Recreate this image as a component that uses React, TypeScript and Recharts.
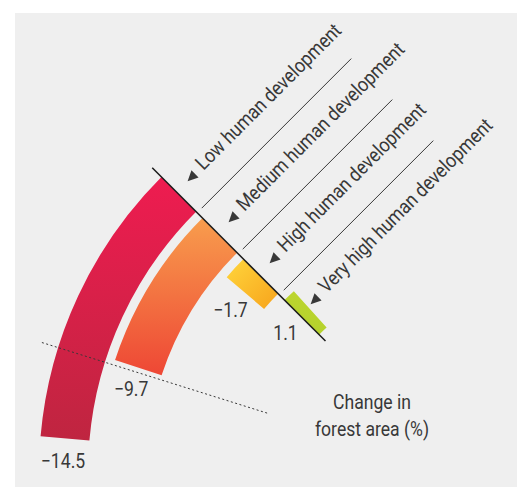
import React from 'react';
import { RadialBarChart, RadialBar, PolarAngleAxis, PolarRadiusAxis, Cell, Sector } from 'recharts';

// groups are listed from the innermost ring outwards
const groups = [
  'Very high human development',
  'High human development',
  'Medium human development',
  'Low human development',
];
const forestChange = [1.1, -1.7, -9.7, -14.5];
const gridTicks = [-10, 0];
const axisTitle = ['Change in', 'forest area (%)'];

const data = groups.map((name, i) => ({ name, value: forestChange[i] }));

const W = 517;
const H = 487;
const CX = 457;
const CY = 472.6;
const DEG_PER_UNIT = 2.76;
const ZERO_ANGLE = 135;
const DOMAIN: [number, number] = [-20, 20];
const INK = '#383838';
const FONT = 'Roboto, "Noto Sans", sans-serif';
const FONT_SIZE = 20;
const NARROW = 0.88; // squeeze Roboto to look like the condensed face

const fills = ['url(#gVeryHigh)', 'url(#gHigh)', 'url(#gMedium)', 'url(#gLow)'];

const RAD = Math.PI / 180;
// r along the radial direction at angle theta, u along the tangent (clockwise side)
function at(theta: number, r: number, u: number) {
  const c = Math.cos(theta * RAD);
  const s = Math.sin(theta * RAD);
  return { x: CX + r * c + u * s, y: CY - r * s + u * c };
}

function fmt(v: number) {
  return v < 0 ? `\u2212${Math.abs(v)}` : `${v}`;
}

function Txt({ x, y, rot = 0, anchor = 'start', middle = false, children }: any) {
  return (
    <text
      transform={`translate(${x},${y}) rotate(${rot}) scale(${NARROW},1)`}
      textAnchor={anchor}
      dominantBaseline={middle ? 'central' : undefined}
      fontFamily={FONT}
      fontSize={FONT_SIZE}
      fill={INK}
    >
      {children}
    </text>
  );
}

function BarWithLabels(props: any) {
  const { innerRadius, outerRadius, startAngle, endAngle, payload } = props;
  const idx = groups.indexOf(payload?.name ?? props.name);
  const value = forestChange[idx];
  const mid = (innerRadius + outerRadius) / 2;
  const base = startAngle;
  const rot = 90 - base;
  const tri = at(base, mid + 3, 21);
  const txt = at(base, mid - 1, 34);
  const valAngle = value < 0 ? endAngle : startAngle;
  const vp = at(valAngle, mid, -23);
  const l0 = at(base, innerRadius - 1.5, 6.5);
  const l1 = at(base, innerRadius - 1.5, 218);
  return (
    <g>
      <Sector {...props} />
      {idx > 0 && <line x1={l0.x} y1={l0.y} x2={l1.x} y2={l1.y} stroke={INK} strokeWidth={1} />}
      <g transform={`translate(${tri.x},${tri.y}) rotate(${rot})`}>
        <polygon points="-5.5,0 5,-5 5,5" fill={INK} />
      </g>
      <Txt x={txt.x} y={txt.y} rot={rot}>
        {groups[idx]}
      </Txt>
      <Txt x={vp.x} y={vp.y} anchor="middle" middle>
        {fmt(value)}
      </Txt>
    </g>
  );
}

function GridTick(props: any) {
  const { payload } = props;
  const theta = payload.coordinate;
  const isZero = payload.value === 0;
  const a = at(theta, isZero ? 186 : 199, 0);
  const b = at(theta, isZero ? 431 : 436, 0);
  return (
    <line
      x1={a.x}
      y1={a.y}
      x2={b.x}
      y2={b.y}
      stroke={isZero ? '#1a1a1a' : INK}
      strokeWidth={isZero ? 1.5 : 1}
      strokeDasharray={isZero ? undefined : '2 2.5'}
    />
  );
}

export default function App() {
  return (
    <div style={{ position: 'absolute', left: 0, top: 0, width: W, height: H, background: '#fff', overflow: 'hidden' }}>
      <div style={{ position: 'absolute', left: 15, top: 13, width: W - 15, height: H - 13, background: '#efefef' }} />
      <div style={{ position: 'absolute', left: 0, top: 0 }}>
        <RadialBarChart
          width={W}
          height={H}
          data={data}
          cx={CX}
          cy={CY}
          innerRadius={190}
          outerRadius={422}
          startAngle={ZERO_ANGLE - DOMAIN[0] * DEG_PER_UNIT}
          endAngle={ZERO_ANGLE - DOMAIN[1] * DEG_PER_UNIT}
          barSize={49}
          margin={{ top: 0, right: 0, bottom: 0, left: 0 }}
        >
          <defs>
            <linearGradient id="gLow" x1="0" y1="0" x2="0" y2="1">
              <stop offset="0%" stopColor="#ee1c50" />
              <stop offset="100%" stopColor="#bf2540" />
            </linearGradient>
            <linearGradient id="gMedium" x1="0" y1="0" x2="0" y2="1">
              <stop offset="0%" stopColor="#f89d4d" />
              <stop offset="100%" stopColor="#ee4735" />
            </linearGradient>
            <linearGradient id="gHigh" x1="0" y1="0" x2="1" y2="1">
              <stop offset="0%" stopColor="#ffd63c" />
              <stop offset="100%" stopColor="#f7a31c" />
            </linearGradient>
            <linearGradient id="gVeryHigh" x1="0" y1="0" x2="0" y2="1">
              <stop offset="0%" stopColor="#bcd52f" />
              <stop offset="100%" stopColor="#b5d22c" />
            </linearGradient>
          </defs>
          <PolarRadiusAxis type="category" dataKey="name" tick={false} axisLine={false} />
          <RadialBar dataKey="value" isAnimationActive={false} shape={BarWithLabels}>
            {data.map((d, i) => (
              <Cell key={d.name} fill={fills[i]} />
            ))}
          </RadialBar>
          <PolarAngleAxis
            type="number"
            domain={DOMAIN}
            ticks={gridTicks}
            tick={GridTick}
            tickLine={false}
            axisLine={false}
          />
        </RadialBarChart>
      </div>
      <svg width={W} height={H} style={{ position: 'absolute', left: 0, top: 0, pointerEvents: 'none' }}>
        {axisTitle.map((line, i) => (
          <Txt key={line} x={372} y={409 + i * 27} anchor="middle">
            {line}
          </Txt>
        ))}
      </svg>
    </div>
  );
}
